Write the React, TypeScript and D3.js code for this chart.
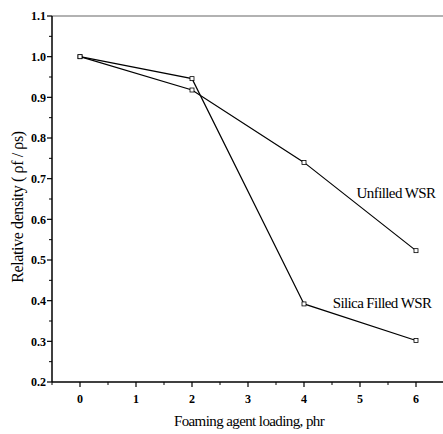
import React from "react";
import * as d3 from "d3";

const loadings = [0, 2, 4, 6];
const unfilled = [1.0, 0.918, 0.74, 0.523];
const silica = [1.0, 0.946, 0.392, 0.302];
const xTicks = [0, 1, 2, 3, 4, 5, 6];
const yTicks = [0.2, 0.3, 0.4, 0.5, 0.6, 0.7, 0.8, 0.9, 1.0, 1.1];

const W = 443, H = 434;
const x = d3.scaleLinear().domain([-0.5, 6.5]).range([52, 444]);
const y = d3.scaleLinear().domain([0.2, 1.1]).range([382, 16]);
const font = "'Liberation Serif', 'Times New Roman', 'DejaVu Serif', serif";

export default function App() {
  const line = d3.line<number>().x((_, i) => x(loadings[i])).y((d) => y(d));
  const xMinor = d3.range(-0.5, 6.51, 0.5).filter((v) => !xTicks.includes(v));
  const yMinor = d3.range(0.25, 1.1, 0.1);
  const series = [unfilled, silica];
  const tf = { fontFamily: font };
  return (
    <svg width={W} height={H} style={{ position: "absolute", left: 0, top: 0, background: "#fff" }}>
      <line x1={x(-0.5)} x2={W} y1={y(1.1)} y2={y(1.1)} stroke="#999" strokeWidth={1.5} />
      <line x1={x(-0.5)} x2={x(-0.5)} y1={y(1.1)} y2={y(0.2)} stroke="#000" strokeWidth={1.5} />
      <line x1={x(-0.5)} x2={W} y1={y(0.2)} y2={y(0.2)} stroke="#000" strokeWidth={1.5} />
      {yTicks.map((t) => (
        <g key={"y" + t}>
          <line x1={x(-0.5) - 5} x2={x(-0.5)} y1={y(t)} y2={y(t)} stroke="#000" strokeWidth={1.2} />
          <text x={x(-0.5) - 6} y={y(t)} dy="0.35em" textAnchor="end" style={tf} fontSize={12} fontWeight="bold">
            {t.toFixed(1)}
          </text>
        </g>
      ))}
      {yMinor.map((t) => (
        <line key={"ym" + t} x1={x(-0.5) - 3} x2={x(-0.5)} y1={y(t)} y2={y(t)} stroke="#000" strokeWidth={1} />
      ))}
      {xTicks.map((t) => (
        <g key={"x" + t}>
          <line x1={x(t)} x2={x(t)} y1={y(0.2)} y2={y(0.2) + 5} stroke="#000" strokeWidth={1.2} />
          <text x={x(t)} y={403} textAnchor="middle" style={tf} fontSize={12} fontWeight="bold">
            {t}
          </text>
        </g>
      ))}
      {xMinor.map((t) => (
        <line key={"xm" + t} x1={x(t)} x2={x(t)} y1={y(0.2)} y2={y(0.2) + 3} stroke="#000" strokeWidth={1} />
      ))}
      {series.map((s, si) => (
        <g key={"s" + si}>
          <path d={line(s) || ""} fill="none" stroke="#000" strokeWidth={1.2} />
          {s.map((v, i) => (
            <rect key={i} x={x(loadings[i]) - 2} y={y(v) - 2} width={4} height={4} fill="#fff" stroke="#000" strokeWidth={0.8} />
          ))}
        </g>
      ))}
      <text x={396} y={198} textAnchor="middle" style={tf} fontSize={15} letterSpacing={-0.6}>Unfilled WSR</text>
      <text x={382} y={308} textAnchor="middle" style={tf} fontSize={15} letterSpacing={-0.6}>Silica Filled WSR</text>
      <text x={249} y={426} textAnchor="middle" style={tf} fontSize={15} letterSpacing={-0.6}>Foaming agent loading, phr</text>
      <text transform={`translate(23,207) rotate(-90)`} textAnchor="middle" style={tf} fontSize={16} letterSpacing={-0.4}>
        Relative density ( ρf / ρs)
      </text>
    </svg>
  );
}
